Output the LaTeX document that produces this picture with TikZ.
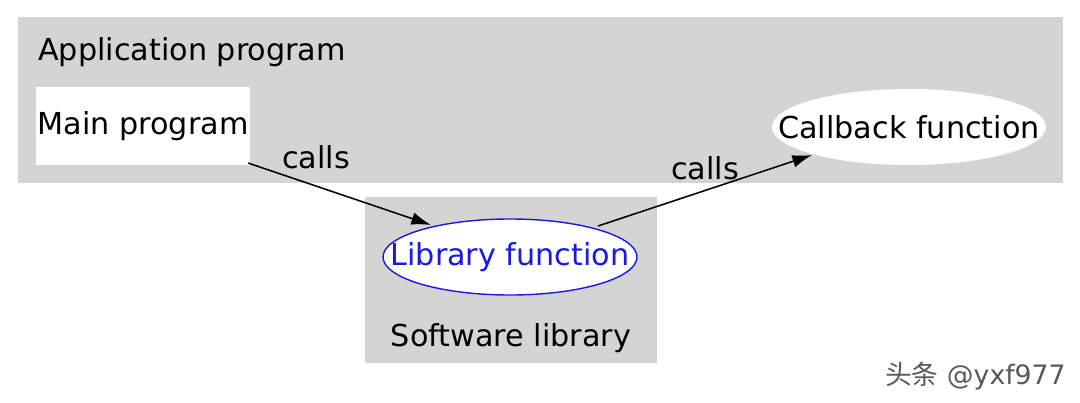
\documentclass[tikz,border=0pt]{standalone}
\usepackage{fontspec}
\setmainfont{DejaVu Sans}
\newfontfamily\cjk{Noto Sans CJK SC}
\usetikzlibrary{shapes.geometric,arrows.meta}
\definecolor{libblue}{RGB}{25,25,225}
\begin{document}
\begin{tikzpicture}[x=0.025cm,y=-0.025cm,
  txt/.style={font=\fontsize{21.5}{25}\selectfont, inner sep=0pt},
  grp/.style={fill=black!17, draw=none},
  arr/.style={-{Latex[length=14pt,width=9pt]}, line width=1.1pt}]
\useasboundingbox (0,0) rectangle (1080,402);
\fill[white] (0,0) rectangle (1080,402);
\path[grp] (18,17) rectangle (1063,183);
\path[grp] (365,197) rectangle (657,363);
\node[txt, anchor=west] (app) at (38,52) {Application program};
\node[txt, anchor=center] (sl) at (511,338) {Software library};
\node[txt, fill=white, minimum width=214*0.025cm, minimum height=78*0.025cm] (main) at (143,126) {Main program};
\fill[white] (909,127) ellipse [x radius=137, y radius=38];
\node[txt] (cb) at (909,127) {Callback function};
\draw[libblue, line width=1pt, fill=white] (510,257) ellipse [x radius=127, y radius=38];
\node[txt, text=libblue] (lib) at (510,257) {Library function};
\coordinate (a1) at (248,163);
\coordinate (libin) at (431,225);
\coordinate (a2) at (598,226);
\coordinate (cbin) at (812,155);
\draw[arr] (a1) -- (libin);
\draw[arr] (a2) -- (cbin);
\node[txt] (c1) at (316,157) {calls};
\node[txt] (c2) at (705,168) {calls};
\node[font=\fontsize{19}{22}\selectfont, text=black!65, anchor=east, inner sep=0pt] (wm) at (1066,376) {{\cjk 头条} @yxf977};
\end{tikzpicture}
\end{document}
